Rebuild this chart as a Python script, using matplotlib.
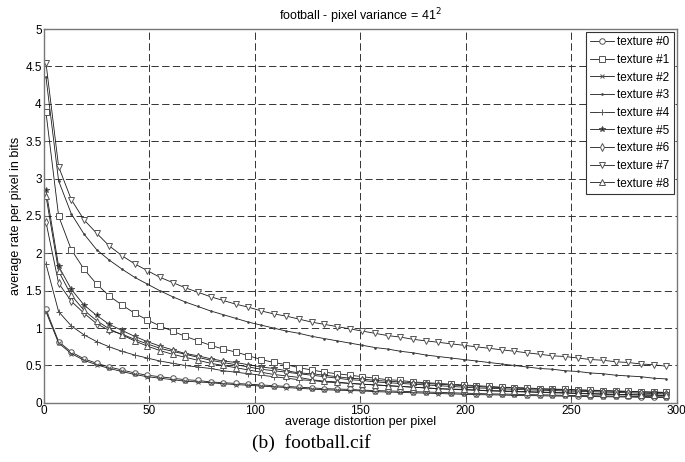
import matplotlib
matplotlib.use("Agg")
import matplotlib.pyplot as plt

plt.rcParams['font.family'] = ['Liberation Sans', 'DejaVu Sans']

# average distortion per pixel (sample points)
distortion = [1, 7, 13, 19, 25, 31, 37, 43, 49, 55, 61, 67, 73, 79, 85, 91, 97,
              103, 109, 115, 121, 127, 133, 139, 145, 151, 157, 163, 169, 175,
              181, 187, 193, 199, 205, 211, 217, 223, 229, 235, 241, 247, 253,
              259, 265, 271, 277, 283, 289, 295]

# rate per texture (bits/pixel)
tex0 = [1.25, 0.82, 0.68, 0.59, 0.53, 0.48, 0.44, 0.40, 0.37, 0.35, 0.33, 0.31, 0.30,
        0.28, 0.27, 0.26, 0.25, 0.24, 0.23, 0.22, 0.21, 0.20, 0.19,
        0.185, 0.18, 0.17, 0.165, 0.16, 0.155, 0.15, 0.145, 0.14, 0.135, 0.13, 0.125,
        0.12, 0.118, 0.115, 0.11, 0.108, 0.105, 0.10, 0.098, 0.095, 0.092, 0.09,
        0.088, 0.085, 0.082, 0.08]
tex1 = [3.89, 2.50, 2.05, 1.79, 1.59, 1.43, 1.31, 1.20, 1.11, 1.03, 0.96, 0.89, 0.83,
        0.77, 0.72, 0.68, 0.63, 0.58, 0.54, 0.51, 0.47, 0.44, 0.41,
        0.39, 0.37, 0.35, 0.33, 0.31, 0.30, 0.28, 0.27, 0.26, 0.25, 0.24, 0.23,
        0.22, 0.21, 0.205, 0.20, 0.19, 0.185, 0.18, 0.175, 0.17, 0.165, 0.16,
        0.155, 0.15, 0.145, 0.14]
tex2 = [1.22, 0.80, 0.66, 0.57, 0.51, 0.46, 0.42, 0.38, 0.35, 0.33, 0.31, 0.29, 0.28,
        0.27, 0.255, 0.245, 0.235, 0.225, 0.215, 0.205, 0.195, 0.185, 0.175,
        0.17, 0.165, 0.16, 0.15, 0.145, 0.14, 0.135, 0.13, 0.125, 0.12, 0.115, 0.11,
        0.108, 0.105, 0.10, 0.098, 0.095, 0.092, 0.09, 0.087, 0.085, 0.082, 0.08,
        0.078, 0.075, 0.072, 0.07]
tex3 = [4.36, 2.97, 2.53, 2.26, 2.05, 1.91, 1.79, 1.68, 1.59, 1.50, 1.42, 1.35, 1.29,
        1.23, 1.18, 1.13, 1.08, 1.04, 1.00, 0.96, 0.93, 0.89, 0.86,
        0.83, 0.80, 0.77, 0.74, 0.72, 0.69, 0.67, 0.64, 0.62, 0.60, 0.58, 0.56,
        0.54, 0.52, 0.50, 0.48, 0.46, 0.45, 0.43, 0.42, 0.40, 0.39, 0.37,
        0.36, 0.35, 0.33, 0.32]
tex4 = [1.86, 1.22, 1.03, 0.91, 0.82, 0.75, 0.69, 0.64, 0.60, 0.56, 0.53, 0.50, 0.48,
        0.46, 0.43, 0.41, 0.39, 0.37, 0.35, 0.33, 0.31, 0.30, 0.28,
        0.27, 0.26, 0.25, 0.24, 0.23, 0.22, 0.21, 0.20, 0.19, 0.18, 0.175, 0.17,
        0.16, 0.155, 0.15, 0.145, 0.14, 0.135, 0.13, 0.125, 0.12, 0.115, 0.11,
        0.108, 0.105, 0.10, 0.10]
tex5 = [2.85, 1.83, 1.52, 1.31, 1.17, 1.05, 0.97, 0.89, 0.82, 0.76, 0.71, 0.66, 0.63,
        0.59, 0.56, 0.54, 0.51, 0.48, 0.46, 0.43, 0.40, 0.39, 0.37,
        0.35, 0.33, 0.32, 0.30, 0.29, 0.28, 0.27, 0.26, 0.25, 0.24, 0.23, 0.22,
        0.21, 0.205, 0.20, 0.19, 0.185, 0.18, 0.175, 0.17, 0.165, 0.16, 0.155,
        0.15, 0.145, 0.14, 0.135]
tex6 = [2.42, 1.60, 1.36, 1.20, 1.06, 0.97, 0.92, 0.85, 0.79, 0.73, 0.69, 0.65, 0.61,
        0.57, 0.54, 0.51, 0.48, 0.45, 0.43, 0.41, 0.39, 0.37, 0.35,
        0.33, 0.31, 0.30, 0.28, 0.27, 0.26, 0.25, 0.24, 0.23, 0.22, 0.21, 0.20,
        0.195, 0.19, 0.18, 0.175, 0.17, 0.165, 0.16, 0.155, 0.15, 0.145, 0.14,
        0.135, 0.13, 0.125, 0.12]
tex7 = [4.55, 3.16, 2.72, 2.45, 2.27, 2.10, 1.97, 1.86, 1.77, 1.68, 1.61, 1.54, 1.48,
        1.42, 1.37, 1.32, 1.28, 1.23, 1.19, 1.16, 1.12, 1.08, 1.05,
        1.02, 0.99, 0.96, 0.93, 0.90, 0.88, 0.85, 0.83, 0.81, 0.79, 0.77, 0.75,
        0.73, 0.71, 0.69, 0.67, 0.65, 0.63, 0.62, 0.60, 0.58, 0.57, 0.55,
        0.54, 0.52, 0.51, 0.49]
tex8 = [2.77, 1.76, 1.44, 1.24, 1.10, 0.99, 0.91, 0.83, 0.76, 0.70, 0.65, 0.61, 0.57,
        0.53, 0.50, 0.47, 0.44, 0.41, 0.38, 0.36, 0.34, 0.31, 0.29,
        0.28, 0.26, 0.25, 0.24, 0.23, 0.22, 0.21, 0.20, 0.19, 0.185, 0.18, 0.17,
        0.165, 0.16, 0.155, 0.15, 0.145, 0.14, 0.135, 0.13, 0.125, 0.12, 0.115,
        0.11, 0.108, 0.105, 0.10]

series = [tex0, tex1, tex2, tex3, tex4, tex5, tex6, tex7, tex8]
labels = ['texture #%d' % i for i in range(9)]
markers = ['o', 's', 'x', '.', '+', '*', 'd', 'v', '^']
msizes = [4, 4, 3.5, 2.5, 5, 4, 4, 4.5, 4.5]

fig = plt.figure(figsize=(6.85, 4.62), dpi=100)
ax = fig.add_axes([0.064, 0.128, 0.924, 0.809])

for ys, lab, mk, ms in zip(series, labels, markers, msizes):
    ax.plot(distortion, ys, color='#1a1a1a', linewidth=0.6, marker=mk,
            markersize=ms, markerfacecolor='white' if mk not in ('.', '*') else '#222222',
            markeredgecolor='#555555', markeredgewidth=0.7, label=lab)

ax.set_xlim(0, 300)
ax.set_ylim(0, 5)
ax.set_xticks([0, 50, 100, 150, 200, 250, 300])
ax.set_yticks([0, 0.5, 1, 1.5, 2, 2.5, 3, 3.5, 4, 4.5, 5])
ax.set_yticklabels(['0', '0.5', '1', '1.5', '2', '2.5', '3', '3.5', '4', '4.5', '5'])
ax.grid(True, color='#333333', linestyle=(0, (7.5, 3.5)), linewidth=0.7)
ax.tick_params(direction='in', length=3, labelsize=8.5, color='#666666', pad=1.5)
for s in ax.spines.values():
    s.set_color('#777777')
    s.set_linewidth(1.0)

ax.set_xlabel('average distortion per pixel', fontsize=9, labelpad=-0.5)
ax.set_ylabel('average rate per pixel in bits', fontsize=9, labelpad=2)
ax.set_title('football - pixel variance = 41$^2$', fontsize=9, pad=6)

leg = ax.legend(loc='upper right', fontsize=8.5, fancybox=False, framealpha=1,
                edgecolor='#333333', handlelength=2.0, handletextpad=0.3,
                labelspacing=0.48, borderpad=0.35, borderaxespad=0.25)
leg.get_frame().set_linewidth(0.8)

fig.text(0.455, 0.022, '(b)  football.cif', fontsize=14,
         family=['Liberation Serif', 'DejaVu Serif'], ha='center', va='bottom')

fig.savefig('out.png', dpi=100)
